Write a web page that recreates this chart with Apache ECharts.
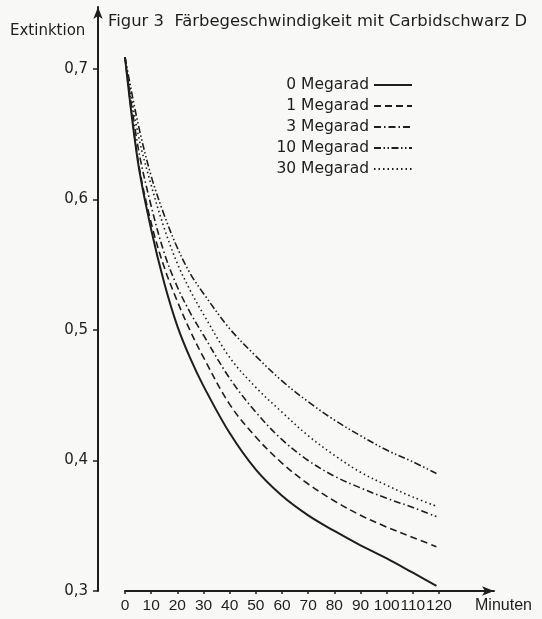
<!DOCTYPE html>
<html>
<head>
<meta charset="utf-8">
<script src="https://cdn.jsdelivr.net/npm/echarts@6/dist/echarts.min.js"></script>
<style>
html,body{margin:0;padding:0;background:#f8f8f6;}
#c{width:542px;height:619px;}
</style>
</head>
<body>
<div id="c"></div>
<script>
var minutes = [0, 5, 10, 15, 20, 25, 30, 40, 50, 60, 70, 80, 90, 100, 110, 119];
var mrad0  = [0.709, 0.628, 0.577, 0.536, 0.503, 0.478, 0.457, 0.421, 0.393, 0.373, 0.358, 0.346, 0.335, 0.325, 0.314, 0.304];
var mrad1  = [0.709, 0.630, 0.582, 0.548, 0.522, 0.499, 0.479, 0.443, 0.418, 0.398, 0.382, 0.369, 0.358, 0.349, 0.341, 0.334];
var mrad3  = [0.709, 0.640, 0.595, 0.559, 0.533, 0.513, 0.496, 0.463, 0.437, 0.416, 0.400, 0.388, 0.379, 0.371, 0.364, 0.357];
var mrad10 = [0.709, 0.658, 0.618, 0.588, 0.563, 0.543, 0.528, 0.501, 0.480, 0.461, 0.445, 0.431, 0.419, 0.408, 0.399, 0.390];
var mrad30 = [0.709, 0.650, 0.611, 0.578, 0.551, 0.530, 0.512, 0.479, 0.456, 0.437, 0.419, 0.404, 0.391, 0.381, 0.372, 0.365];
var xTicks = [0, 10, 20, 30, 40, 50, 60, 70, 80, 90, 100, 110, 120];
var yTicks = [0.3, 0.4, 0.5, 0.6, 0.7];
var seriesNames = ['0 Megarad', '1 Megarad', '3 Megarad', '10 Megarad', '30 Megarad'];

function pairs(arr) { return minutes.map(function (t, i) { return [t, arr[i]]; }); }

var ink = '#1e1e1e';
var font = 'DejaVu Sans';

var chart = echarts.init(document.getElementById('c'), null, {renderer: 'canvas'});
function mk(name, data, type, width) {
  return {
    name: name, type: 'line', smooth: 0.35, symbol: 'none', data: pairs(data),
    lineStyle: {color: ink, width: width, type: type, cap: 'butt'},
    itemStyle: {color: ink}
  };
}
chart.setOption({
  backgroundColor: '#f8f8f6',
  animation: false,
  title: [
    {text: 'Figur 3  Färbegeschwindigkeit mit Carbidschwarz D', left: 108, top: 14, padding: 0,
     textStyle: {fontFamily: font, fontSize: 16.4, fontWeight: 'normal', color: ink}},
    {text: 'Extinktion', left: 10, top: 24, padding: 0,
     textStyle: {fontFamily: font, fontSize: 15, fontWeight: 'normal', color: ink}},
    {text: 'Minuten', left: 475, top: 598, padding: 0,
     textStyle: {fontFamily: 'Liberation Sans', fontSize: 16, fontWeight: 'normal', color: ink}}
  ],
  legend: {
    orient: 'vertical', align: 'right', right: 124, top: 72,
    itemWidth: 38, itemHeight: 12, itemGap: 5,
    itemStyle: {opacity: 0},
    textStyle: {fontFamily: font, fontSize: 15.5, color: ink},
    data: seriesNames
  },
  grid: {left: 125, right: 48, top: 7, bottom: 28, containLabel: false},
  xAxis: {
    type: 'value', min: 0, max: 141,
    axisLine: {show: true, onZero: false, symbol: ['none', 'arrow'], symbolSize: [7, 12], lineStyle: {color: ink, width: 2}},
    axisTick: {show: true, customValues: xTicks, length: 3, lineStyle: {color: ink, width: 1.5}},
    axisLabel: {customValues: xTicks, fontFamily: 'Liberation Sans', fontSize: 15.5, color: ink, margin: 7},
    splitLine: {show: false}
  },
  yAxis: {
    type: 'value', min: 0.3, max: 0.7475, offset: 27,
    axisLine: {show: true, onZero: false, symbol: ['none', 'arrow'], symbolSize: [7, 12], lineStyle: {color: ink, width: 2}},
    axisTick: {show: true, customValues: yTicks, length: 5, lineStyle: {color: ink, width: 1.5}},
    axisLabel: {customValues: yTicks, fontFamily: font, fontSize: 15, color: ink, margin: 10,
      formatter: function (v) { return v.toFixed(1).replace('.', ','); }},
    splitLine: {show: false}
  },
  series: [
    mk(seriesNames[0], mrad0, 'solid', 2),
    mk(seriesNames[1], mrad1, [7, 4], 1.6),
    mk(seriesNames[2], mrad3, [7, 3, 1.5, 3], 1.6),
    mk(seriesNames[3], mrad10, [7, 2.5, 1.5, 2.5, 1.5, 2.5], 1.6),
    mk(seriesNames[4], mrad30, [1.5, 3], 1.6)
  ]
});
</script>
</body>
</html>
